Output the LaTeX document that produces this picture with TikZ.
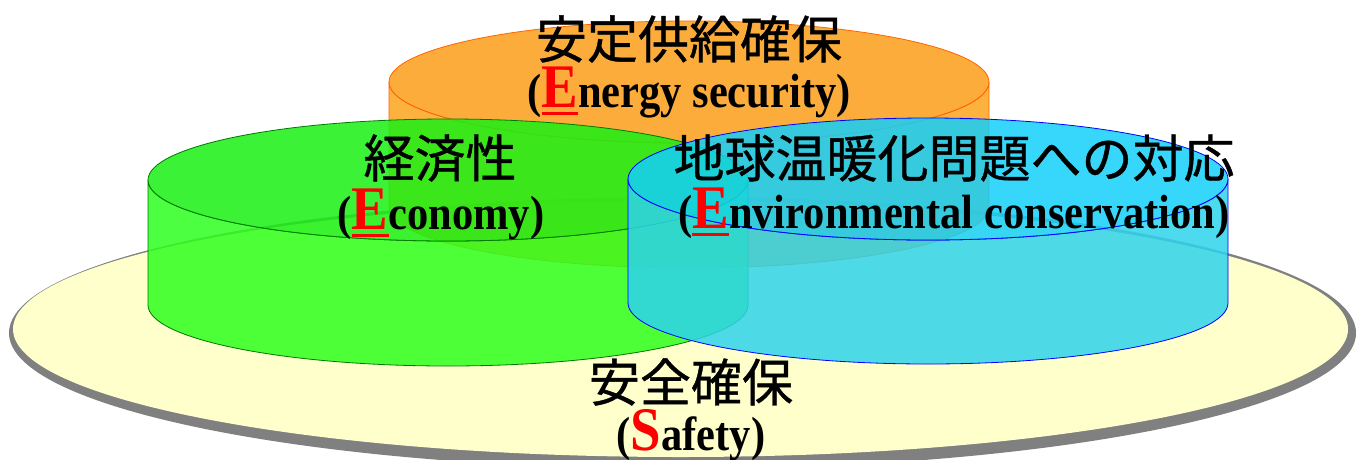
\documentclass[tikz,border=0pt]{standalone}
\usepackage{fontspec}
\newfontfamily\cjk[FakeBold=0.8]{Noto Sans CJK JP}
\newfontfamily\enfont[FakeStretch=0.885]{Liberation Serif}
\definecolor{cream}{HTML}{FFFFCC}
\definecolor{rim}{HTML}{808080}
\definecolor{orSide}{RGB}{253,165,30}
\definecolor{orTop}{RGB}{250,158,25}
\definecolor{orLine}{RGB}{255,100,0}
\definecolor{grSide}{RGB}{45,255,30}
\definecolor{grTop}{RGB}{25,240,20}
\definecolor{grLine}{RGB}{0,120,0}
\definecolor{cySide}{RGB}{46,211,235}
\definecolor{cyTop}{RGB}{20,207,250}
\definecolor{cyLine}{RGB}{0,0,255}
\newcommand\bigred[1]{\textcolor{red}{\setbox0\hbox{\fontsize{62}{62}\selectfont #1}\rlap{\rule[-8pt]{\wd0}{3pt}}\box0}}
\newcommand\bigredplain[1]{\textcolor{red}{\fontsize{62}{62}\selectfont #1}}
\newcommand\drawcyl[6]{%
  \path[draw=#6, line width=0.8pt, fill=#4, fill opacity=0.85]
    ({#1-300},{-#2}) -- ({#1-300},{-#3})
    arc[start angle=180, end angle=360, x radius=300, y radius=61]
    -- ({#1+300},{-#2})
    arc[start angle=0, end angle=-180, x radius=300, y radius=61] -- cycle;
  \path[draw=#6, line width=0.8pt, fill=#5, fill opacity=0.85]
    (#1,-#2) ellipse[x radius=300, y radius=61];
}
\tikzset{
  cjktext/.style={font=\cjk\fontsize{51}{51}\selectfont, inner sep=0pt, text=black},
  entext/.style={font=\enfont\bfseries\fontsize{48}{48}\selectfont, inner sep=0pt, text=black, anchor=base},
}
\begin{document}
\begin{tikzpicture}[x=1pt, y=1pt]
\useasboundingbox (0,0) rectangle (1362,-459);
% base disc
\fill[rim] (682.5,-333) ellipse[x radius=673.5, y radius=136];
\fill[cream] (680.5,-329) ellipse[x radius=667.5, y radius=128];
% cylinders
\drawcyl{689}{82}{207}{orSide}{orTop}{orLine}
\drawcyl{448}{180}{305}{grSide}{grTop}{grLine}
\drawcyl{928}{179}{303}{cySide}{cyTop}{cyLine}
% texts
\node[cjktext] (jes) at (689,-39) {安定供給確保};
\node[entext] (ees) at (689,-107) {(\bigred{E}nergy security)};
\node[cjktext] (jec) at (440,-158) {経済性};
\node[entext] (eec) at (441,-229) {(\bigred{E}conomy)};
\node[cjktext] (jen) at (954,-158) {地球温暖化問題への対応};
\node[entext] (een) at (954,-228) {(\bigred{E}nvironmental conservation)};
\node[cjktext] (jsa) at (691,-382) {安全確保};
\node[entext] (esa) at (691,-450) {(\bigredplain{S}afety)};
\end{tikzpicture}
\end{document}
